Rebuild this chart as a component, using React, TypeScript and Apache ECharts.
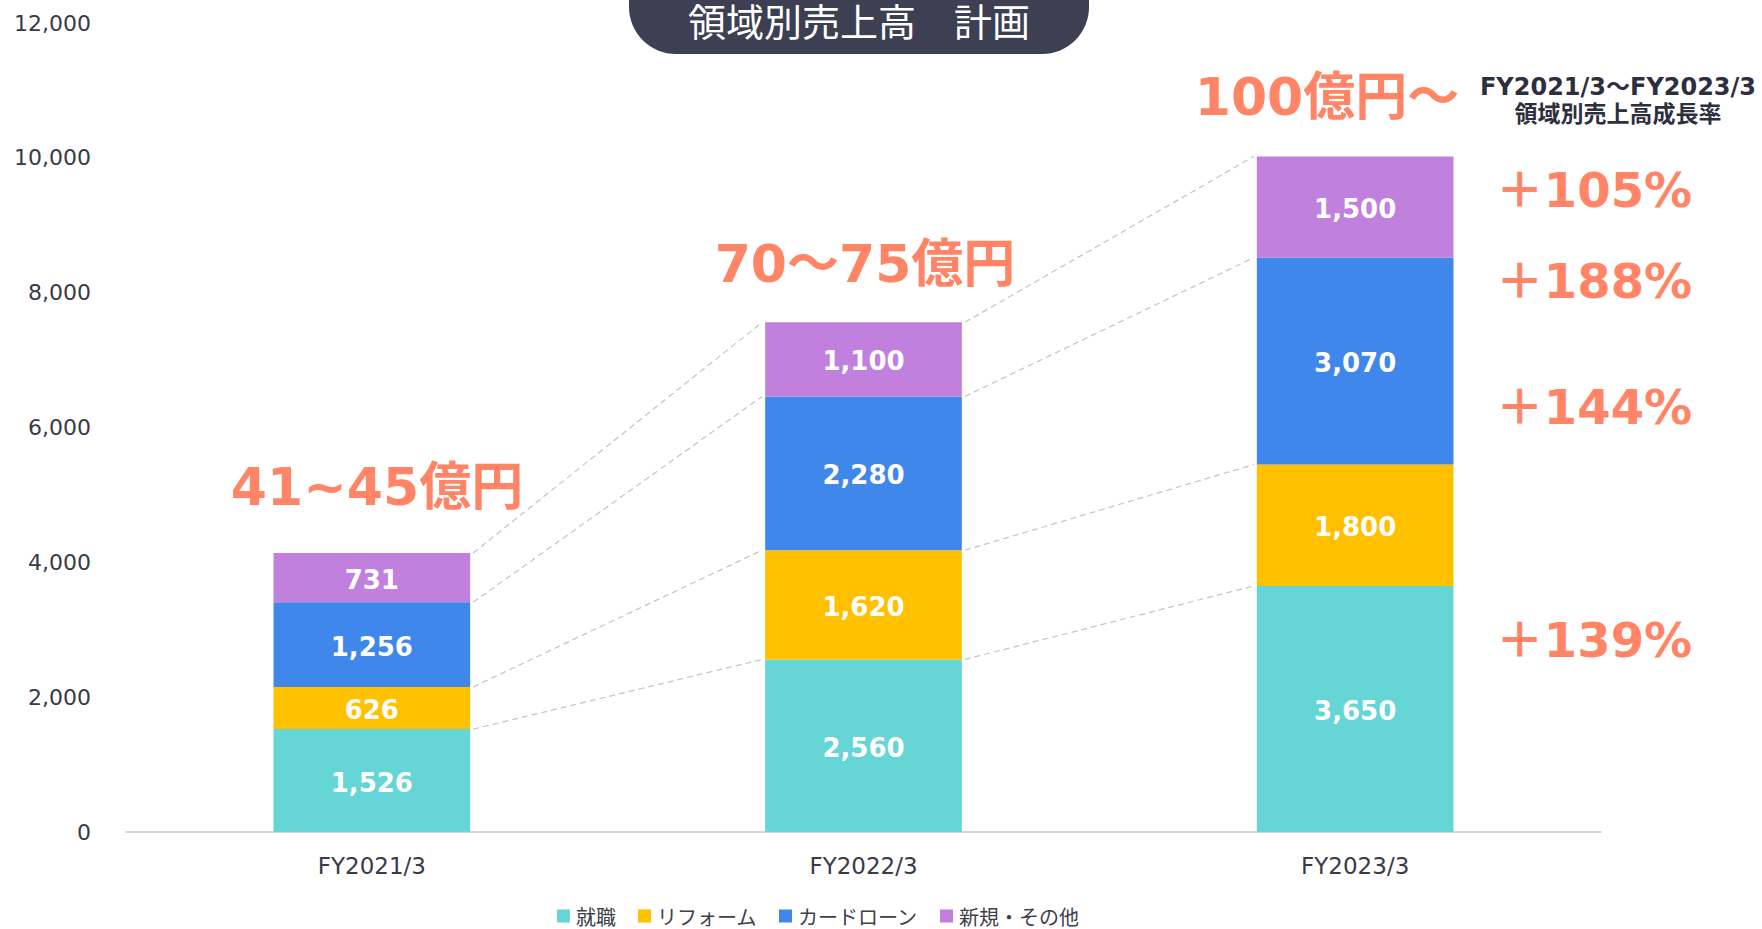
import React, { useEffect, useRef } from "react";
import * as echarts from "echarts";

const categories = ["FY2021/3", "FY2022/3", "FY2023/3"];
const seriesNames = ["就職", "リフォーム", "カードローン", "新規・その他"];
const shushoku = [1526, 2560, 3650];
const reform = [626, 1620, 1800];
const cardLoan = [1256, 2280, 3070];
const others = [731, 1100, 1500];
const yTicks = { min: 0, max: 12000, interval: 2000 };
const totalLabels = ["41~45億円", "70～75億円", "100億円～"];
const growthLabels = ["＋105%", "＋188%", "＋144%", "＋139%"];
const growthTitle = ["FY2021/3～FY2023/3", "領域別売上高成長率"];
const chartTitle = "領域別売上高　計画";

const colors = ["#66D5D5", "#FFC000", "#3F87EA", "#C17FDE"];
const ORANGE = "#FF8566";
const FONT = '"DejaVu Sans", "Noto Sans CJK JP", sans-serif';
const CJK = '"Noto Sans CJK JP", "DejaVu Sans", sans-serif';

const fmt = (v: number) => v.toLocaleString("en-US");

export default function App() {
  const ref = useRef<HTMLDivElement>(null);
  useEffect(() => {
    if (!ref.current) return;
    const chart = echarts.init(ref.current, undefined, { renderer: "svg" });
    const stacks = [shushoku, reform, cardLoan, others];
    const cum: number[][] = categories.map((_, i) => {
      let s = 0;
      return stacks.map((arr) => (s += arr[i]));
    });
    const connectorData: number[][] = [];
    for (let i = 0; i < categories.length - 1; i++) {
      for (let k = 0; k < stacks.length; k++) {
        connectorData.push([i, cum[i][k], cum[i + 1][k]]);
      }
    }
    const barSeries = stacks.map((arr, k) => ({
      name: seriesNames[k],
      type: "bar",
      stack: "total",
      barWidth: "40%",
      data: arr,
      itemStyle: { color: colors[k] },
      label: {
        show: true,
        position: "inside",
        offset: [0, 2],
        color: "#fff",
        fontFamily: FONT,
        fontWeight: "bold",
        fontSize: 26,
        formatter: (p: any) => fmt(p.value),
      },
    }));
    const option: any = {
      animation: false,
      grid: { left: 126, right: 161, top: 23, bottom: 97, containLabel: false },
      legend: {
        data: seriesNames,
        left: 557,
        top: 906,
        padding: 0,
        itemWidth: 13,
        itemHeight: 13,
        itemGap: 22,
        icon: "rect",
        textStyle: {
          fontSize: 20,
          lineHeight: 20,
          color: "#404048",
          fontFamily: CJK,
          padding: [0, 0, 0, 1],
        },
      },
      xAxis: {
        type: "category",
        data: categories,
        axisLine: { show: true, lineStyle: { color: "#C8C8CC", width: 1.5 } },
        axisTick: { show: false },
        axisLabel: { fontSize: 23, color: "#3A3A48", fontFamily: FONT, margin: 22 },
      },
      yAxis: {
        type: "value",
        min: yTicks.min,
        max: yTicks.max,
        interval: yTicks.interval,
        splitLine: { show: false },
        axisLine: { show: false },
        axisTick: { show: false },
        axisLabel: {
          fontSize: 22,
          color: "#3A3A48",
          fontFamily: FONT,
          margin: 35,
          formatter: (v: number) => fmt(v),
        },
      },
      series: [
        ...barSeries,
        {
          type: "custom",
          name: "connectors",
          silent: true,
          z: 1,
          data: connectorData,
          encode: { x: 0, y: 1 },
          renderItem: (params: any, api: any) => {
            const i = api.value(0);
            const a = api.coord([i, api.value(1)]);
            const b = api.coord([i + 1, api.value(2)]);
            const band = api.size([1, 0])[0];
            const half = (band * 0.4) / 2;
            return {
              type: "line",
              shape: { x1: a[0] + half + 3, y1: a[1], x2: b[0] - half - 3, y2: b[1] },
              style: { stroke: "#C4C4C8", lineWidth: 1.2, lineDash: [6, 4] },
            };
          },
        },
      ],
      graphic: [
        {
          type: "rect",
          shape: { x: 629, y: -50, width: 460, height: 104, r: 47 },
          style: { fill: "#3D3F53" },
        },
        {
          type: "text",
          x: 859,
          y: 19,
          style: {
            text: chartTitle,
            fill: "#fff",
            font: `normal 38px ${CJK}`,
            textAlign: "center",
            textVerticalAlign: "middle",
          },
        },
        ...totalLabels.map((t, i) => ({
          type: "text",
          x: [377, 865, 1327][i],
          y: [487, 264, 97][i],
          style: {
            text: t,
            fill: ORANGE,
            font: `bold 52px ${FONT}`,
            textAlign: "center",
            textVerticalAlign: "middle",
          },
        })),
        ...growthTitle.map((t, i) => ({
          type: "text",
          x: 1618,
          y: [87, 114][i],
          style: {
            text: t,
            fill: "#2E2F3E",
            font: `bold ${i === 0 ? 24 : 23}px ${FONT}`,
            textAlign: "center",
            textVerticalAlign: "middle",
          },
        })),
        ...growthLabels.map((t, i) => ({
          type: "text",
          x: 1594,
          y: [190, 281, 407, 640][i],
          style: {
            text: t,
            fill: ORANGE,
            font: `bold 48px ${FONT}`,
            textAlign: "center",
            textVerticalAlign: "middle",
          },
        })),
      ],
    };
    chart.setOption(option);
    return () => chart.dispose();
  }, []);
  return (
    <div
      ref={ref}
      style={{ position: "fixed", left: 0, top: 0, width: 1762, height: 929, background: "#fff" }}
    />
  );
}
